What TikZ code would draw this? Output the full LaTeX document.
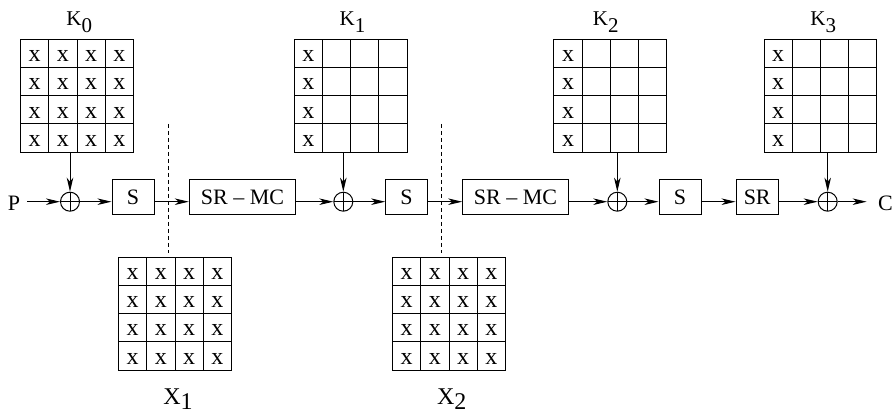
\documentclass[tikz,border=0pt]{standalone}
\usepackage{fontspec}
\setmainfont{Liberation Serif}
\usetikzlibrary{arrows.meta,calc}
\begin{document}
\begin{tikzpicture}[x=1pt,y=-1pt,
  line width=1pt,
  arr/.style={-{Stealth[length=14pt,width=6.5pt,inset=4pt]}},
  opbox/.style={draw,rectangle,minimum height=35pt,inner sep=0pt,font=\fontsize{22}{26}\selectfont},
  xorn/.style={draw,circle,minimum size=19pt,inner sep=0pt,
    path picture={\draw[line width=1pt] (path picture bounding box.north) -- (path picture bounding box.south)
      (path picture bounding box.west) -- (path picture bounding box.east);}},
  gridbox/.style={draw,rectangle,minimum size=112.8pt,inner sep=0pt,outer sep=0pt},
  cellx/.style={inner sep=0pt,font=\fontsize{24}{28}\selectfont},
  klab/.style={anchor=base,inner sep=0pt,font=\fontsize{21}{25}\selectfont},
  xlab/.style={anchor=base,inner sep=0pt,font=\fontsize{24}{28}\selectfont},
  iolab/.style={inner ysep=0pt,font=\fontsize{22}{26}\selectfont},
  dashline/.style={dashed,dash pattern=on 4pt off 3pt,line width=0.9pt}
]
\useasboundingbox (0,0) rectangle (894,414);

% key and state grids
\node[gridbox] (k0) at (77,95.8) {};
\node[gridbox] (k1) at (350.7,95.8) {};
\node[gridbox] (k2) at (610.3,95.8) {};
\node[gridbox] (k3) at (820.5,95.8) {};
\node[gridbox] (x1) at (175,313.7) {};
\node[gridbox] (x2) at (449,313.7) {};

\foreach \g in {k0,k1,k2,k3,x1,x2}{
  \foreach \i in {1,2,3}{
    \draw ($(\g.north west)!\i/4!(\g.north east)$) -- ($(\g.south west)!\i/4!(\g.south east)$);
    \draw ($(\g.north west)!\i/4!(\g.south west)$) -- ($(\g.north east)!\i/4!(\g.south east)$);
  }
}
% full grids
\foreach \g in {k0,x1,x2}{
  \foreach \r in {0,1,2,3}{
    \foreach \c in {0,1,2,3}{
      \node[cellx] (\g-\r-\c) at ($(\g.north west)+({(\c+0.5)*28.2},{(\r+0.5)*28.2+2.6})$) {x};
    }
  }
}
% first column only
\foreach \g in {k1,k2,k3}{
  \foreach \r in {0,1,2,3}{
    \node[cellx] (\g-\r-0) at ($(\g.north west)+({0.5*28.2},{(\r+0.5)*28.2+2.6})$) {x};
  }
}

% labels
\node[klab] (k0l) at (79.2,25.7) {K\raisebox{-6.6pt}{0}};
\node[klab] (k1l) at (352.5,25.7) {K\raisebox{-6.6pt}{1}};
\node[klab] (k2l) at (605.8,25.7) {K\raisebox{-6.6pt}{2}};
\node[klab] (k3l) at (823.3,25.7) {K\raisebox{-6.6pt}{3}};
\node[xlab] (x1l) at (178,404.3) {X\raisebox{-5.5pt}{1}};
\node[xlab] (x2l) at (451.7,404.3) {X\raisebox{-5.5pt}{2}};

% main line
\node[iolab,inner xsep=6.5pt] (p) at (14,203) {P};
\node[xorn] (o1) at (70,201.7) {};
\node[opbox,minimum width=42pt] (s1) at (133,197.5) {S};
\node[opbox,minimum width=106.4pt] (smc1) at (242.5,197.5) {SR – MC};
\node[xorn] (o2) at (343.3,201.7) {};
\node[opbox,minimum width=41.6pt] (s2) at (406.5,197.5) {S};
\node[opbox,minimum width=105.6pt] (smc2) at (515.5,197.5) {SR – MC};
\node[xorn] (o3) at (617.3,201.7) {};
\node[opbox,minimum width=42pt] (s3) at (680,197.5) {S};
\node[opbox,minimum width=42.3pt] (sr) at (757.2,197.5) {SR};
\node[xorn] (o4) at (827.7,201.7) {};
\node[iolab,inner xsep=11pt] (c) at (885.5,203) {C};

\draw[arr] (p.east |- o1) -- (o1);
\draw[arr] (o1) -- (s1.west |- o1);
\draw[arr] (s1.east |- o1) -- (smc1.west |- o1);
\draw[arr] (smc1.east |- o1) -- (o2);
\draw[arr] (o2) -- (s2.west |- o2);
\draw[arr] (s2.east |- o2) -- (smc2.west |- o2);
\draw[arr] (smc2.east |- o3) -- (o3);
\draw[arr] (o3) -- (s3.west |- o3);
\draw[arr] (s3.east |- o3) -- (sr.west |- o3);
\draw[arr] (sr.east |- o4) -- (o4);
\draw[arr] (o4) -- (c.west |- o4);

% key arrows
\draw[arr] (k0.south -| o1) -- (o1);
\draw[arr] (k1.south -| o2) -- (o2);
\draw[arr] (k2.south -| o3) -- (o3);
\draw[arr] (k3.south -| o4) -- (o4);

% dashed markers
\coordinate (d1t) at (168,124);
\coordinate (d2t) at (441.7,124);
\draw[dashline] (d1t) -- ([yshift=4pt]x1.north -| d1t);
\draw[dashline] (d2t) -- ([yshift=4pt]x2.north -| d2t);
\end{tikzpicture}
\end{document}
